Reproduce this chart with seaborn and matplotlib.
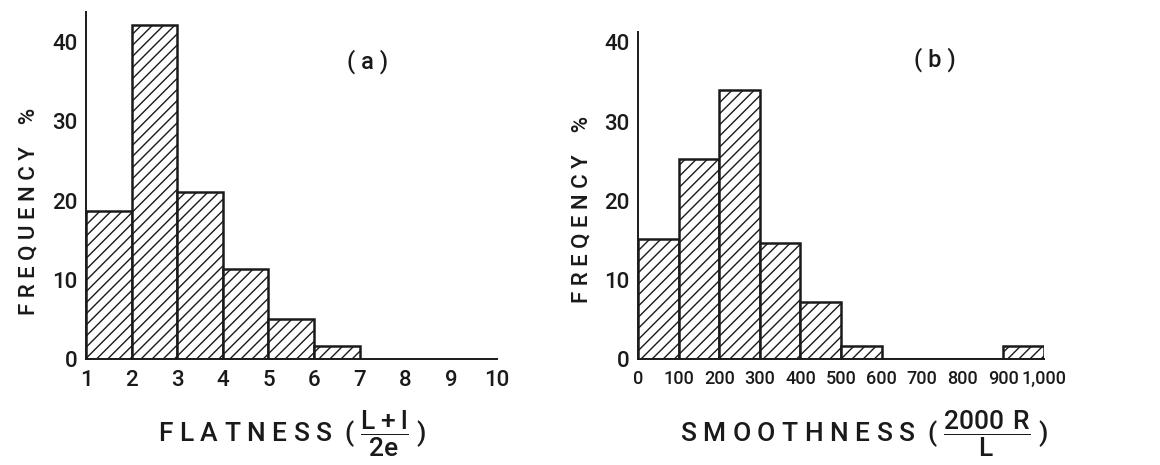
import numpy as np
import matplotlib
matplotlib.use("Agg")
import matplotlib.pyplot as plt
import seaborn as sns

# panel (a): flatness histogram
flat_edges = [1, 2, 3, 4, 5, 6, 7]
flat_freq = [18.7, 42.2, 21.1, 11.3, 5.0, 1.6]
flat_ticks = [1, 2, 3, 4, 5, 6, 7, 8, 9, 10]

# panel (b): smoothness histogram
smooth_edges = [0, 100, 200, 300, 400, 500, 600, 700, 800, 900, 1000]
smooth_freq = [15.2, 25.3, 34.0, 14.7, 7.2, 1.7, 0, 0, 0, 1.7]
smooth_ticks = [0, 100, 200, 300, 400, 500, 600, 700, 800, 900, 1000]
smooth_labels = ["0", "100", "200", "300", "400", "500", "600", "700", "800", "900", "1,000"]

y_ticks = [0, 10, 20, 30, 40]

sns.set_style("white")
plt.rcParams['font.family'] = ['Roboto', 'DejaVu Sans']
plt.rcParams['font.weight'] = 'medium'
plt.rcParams['mathtext.fontset'] = 'custom'
plt.rcParams['mathtext.rm'] = 'Roboto:medium'
plt.rcParams['hatch.linewidth'] = 1.0
plt.rcParams['hatch.color'] = '#222222'

fig = plt.figure(figsize=(11.6, 4.65), dpi=100)
ax_a = fig.add_axes([0.0741, 0.228, 0.354, 0.746])
ax_b = fig.add_axes([0.550, 0.228, 0.350, 0.703])

ink = '#1a1a1a'


def draw_panel(ax, edges, freq, hatch, xsize):
    centers = [(edges[i] + edges[i + 1]) / 2 for i in range(len(freq))]
    sns.histplot(x=centers, weights=freq, bins=edges, stat='count',
                 element='bars', fill=True, color='white',
                 edgecolor=ink, linewidth=1.8, alpha=1, ax=ax)
    for p in ax.patches:
        p.set_hatch(hatch)
        p.set_facecolor('white')
    for side in ['top', 'right']:
        ax.spines[side].set_visible(False)
    for side in ['left', 'bottom']:
        ax.spines[side].set_color(ink)
        ax.spines[side].set_linewidth(1.4)
    ax.set_yticks(y_ticks)
    ax.tick_params(axis='x', direction='in', length=6, width=1.2,
                   colors=ink, labelsize=xsize, pad=8)
    ax.tick_params(axis='y', direction='out', length=5, width=1.2,
                   colors=ink, labelsize=16, pad=1)
    ax.set_ylabel('')
    ax.set_xlabel('')


draw_panel(ax_a, flat_edges, flat_freq, '///', 16)
ax_a.set_xlim(1, 10)
ax_a.set_ylim(0, 43.8)
ax_a.set_xticks(flat_ticks)
ax_a.set_xticklabels([str(t) for t in flat_ticks])

draw_panel(ax_b, smooth_edges, smooth_freq, '///', 13)
ax_b.set_xlim(0, 1000)
ax_b.set_ylim(0, 41.3)
ax_b.set_xticks(smooth_ticks)
ax_b.set_xticklabels(smooth_labels)

# axis titles
fig.text(0.025, 0.545, 'F R E Q U E N C Y    %', rotation=90, ha='center',
         va='center', fontsize=16, color=ink)
fig.text(0.502, 0.55, 'F R E Q E N C Y    %', rotation=90, ha='center',
         va='center', fontsize=16, color=ink)

fig.text(0.252, 0.068, r'F L A T N E S S  ( $\dfrac{\mathrm{L+l}}{\mathrm{2e}}$ )',
         ha='center', va='center', fontsize=19, color=ink)
fig.text(0.745, 0.068, r'S M O O T H N E S S  ( $\dfrac{\mathrm{2000\ R}}{\mathrm{L}}$ )',
         ha='center', va='center', fontsize=19, color=ink)

fig.text(0.317, 0.867, '( a )', ha='center', va='center', fontsize=17, color=ink)
fig.text(0.806, 0.871, '( b )', ha='center', va='center', fontsize=17, color=ink)

fig.savefig('out.png', dpi=100)
